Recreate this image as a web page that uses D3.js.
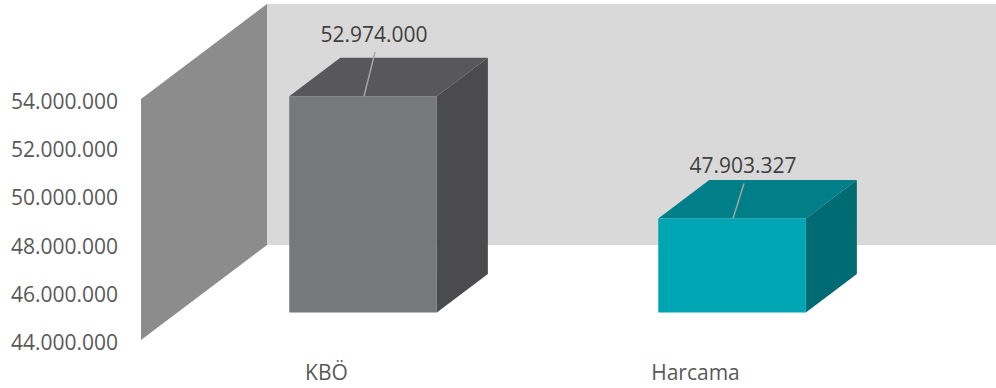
<!DOCTYPE html>
<html>
<head>
<meta charset="utf-8">
<script src="https://cdn.jsdelivr.net/npm/d3@7"></script>
<style>
  html, body { margin: 0; padding: 0; background: #fff; }
  svg { display: block; font-family: "Open Sans", "Noto Sans", sans-serif; }
</style>
</head>
<body>
<svg id="chart" width="996" height="388"></svg>
<script>
// Data
const categories = ["KBÖ", "Harcama"];
const values = [52974000, 47903327];
const yTicks = [44000000, 46000000, 48000000, 50000000, 52000000, 54000000];

const frontFill = ["#77787a", "#00a5b3"];
const topFill = ["#58585a", "#007f88"];
const sideFill = ["#4b4b4d", "#006b72"];

const W = 996, H = 388;
const svg = d3.select("#chart");

// Turkish number format: dot as thousands separator
const trLocale = d3.formatLocale({ decimal: ",", thousands: ".", grouping: [3], currency: ["", "₺"] });
const fmt = trLocale.format(",d");

// Scales on the front plane of the 3D box
const y = d3.scaleLinear().domain([44000000, 54000000]).range([340, 99]);
const x = d3.scaleBand().domain(categories).range([142, 880]).paddingInner(0).paddingOuter(0);

// Depth projection: full depth shifts right and up
const depthX = d3.scaleLinear().domain([0, 1]).range([0, 126]);
const depthY = d3.scaleLinear().domain([0, 1]).range([0, -95]);
const P = (px, py, d) => [px + depthX(d), py + depthY(d)];

const yMin = y.domain()[0], yMax = y.domain()[1];
const x0 = x.range()[0] - 1, x1 = x.range()[1];

// Back wall
const backWall = [P(x0 + depthX(1) * 0 + 0, y(yMax), 1), P(x1 + 200, y(yMax), 1), P(x1 + 200, y(yMin), 1), P(x0, y(yMin), 1)];
svg.append("polygon")
  .attr("points", backWall.map(p => p.join(",")).join(" "))
  .attr("fill", "#d9d9d9");

// Side wall
const sideWall = [P(x0, y(yMin), 0), P(x0, y(yMax), 0), P(x0, y(yMax), 1), P(x0, y(yMin), 1)];
svg.append("polygon")
  .attr("points", sideWall.map(p => p.join(",")).join(" "))
  .attr("fill", "#8c8c8c");

// Y axis labels
const yAxis = d3.axisLeft(y).tickValues(yTicks).tickSize(0).tickPadding(0).tickFormat(fmt);
const gy = svg.append("g").attr("transform", "translate(118,0)").call(yAxis);
gy.select(".domain").remove();
gy.selectAll("text")
  .attr("dy", "0.45em")
  .attr("fill", "#595959")
  .style("font-size", "21px")
  .style("font-family", "'Open Sans', 'Noto Sans', sans-serif");

// 3D bars
const dFront = 0.29, dBack = 0.695;
const barFrac = 0.4;
const labelLift = [54, 45];

categories.forEach((c, i) => {
  const bx0 = x(c) + x.bandwidth() * (1 - barFrac) / 2;
  const bx1 = bx0 + x.bandwidth() * barFrac;
  const yt = y(values[i]);
  const yb = y(yMin);

  const g = svg.append("g").attr("class", "bar");
  const poly = (pts, fill) => g.append("polygon")
    .attr("points", pts.map(p => p.join(",")).join(" "))
    .attr("fill", fill);

  // right face
  poly([P(bx1, yt, dFront), P(bx1, yt, dBack), P(bx1, yb, dBack), P(bx1, yb, dFront)], sideFill[i]);
  // top face
  poly([P(bx0, yt, dFront), P(bx0, yt, dBack), P(bx1, yt, dBack), P(bx1, yt, dFront)], topFill[i]);
  // front face
  poly([P(bx0, yt, dFront), P(bx1, yt, dFront), P(bx1, yb, dFront), P(bx0, yb, dFront)], frontFill[i]);

  // value label with leader line
  const [fx, fy] = P((bx0 + bx1) / 2, yt, dFront);
  const lx = fx + 11;
  const ly = fy - labelLift[i];
  svg.append("line")
    .attr("x1", fx + 1).attr("y1", fy)
    .attr("x2", lx + 1).attr("y2", ly + 10)
    .attr("stroke", "#a6a6a6").attr("stroke-width", 1.5);
  svg.append("text")
    .attr("x", lx).attr("y", ly)
    .attr("text-anchor", "middle")
    .attr("fill", "#404040")
    .style("font-size", "21px")
    .text(fmt(values[i]));

  // category label at the front edge of the floor
  svg.append("text")
    .attr("x", x(c) + x.bandwidth() / 2)
    .attr("y", y(yMin) + 40)
    .attr("text-anchor", "middle")
    .attr("fill", "#595959")
    .style("font-size", "21px")
    .text(c);
});
</script>
</body>
</html>
